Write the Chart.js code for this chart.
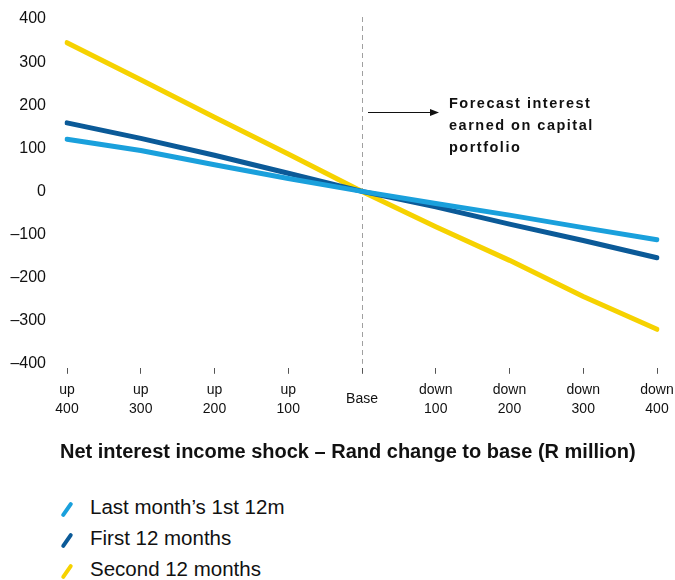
<!DOCTYPE html>
<html>
<head>
<meta charset="utf-8">
<script src="https://cdn.jsdelivr.net/npm/chart.js@4"></script>
<style>
  body { margin: 0; background: #fff; width: 675px; height: 580px; position: relative; overflow: hidden; }
  #wrap { position: absolute; left: 0; top: 0; width: 675px; height: 454px; }
  #title {
    position: absolute; left: 60px; top: 440px;
    font: bold 20px "Liberation Sans", Arial, sans-serif;
    color: #111; white-space: nowrap;
  }
  #legend { position: absolute; left: 0; top: 495px; margin: 0; padding: 0; list-style: none; }
  #legend li {
    position: relative; height: 31px; line-height: 28px; padding-left: 90px;
    font: 20.5px "Liberation Sans", Arial, sans-serif; color: #111; white-space: nowrap;
  }
  #legend .mark {
    position: absolute; left: 65px; top: 6px; width: 4px; height: 17px;
    border-radius: 2px; transform: rotate(35deg);
  }
</style>
</head>
<body>
<div id="wrap"><canvas id="niiChart"></canvas></div>
<div id="title">Net interest income shock – Rand change to base (R million)</div>
<ul id="legend"></ul>

<script>
// Rate shock scenarios (basis points)
const shockLabels = [
  ["up", "400"], ["up", "300"], ["up", "200"], ["up", "100"], "Base",
  ["down", "100"], ["down", "200"], ["down", "300"], ["down", "400"]
];

// Rand change to base, R million
const lastMonthFirst12 = [121, 95, 62, 30, 0, -28, -55, -84, -112];
const first12Months = [159, 123, 84, 42, 0, -36, -76, -114, -154];
const second12Months = [345, 259, 172, 87, 0, -82, -160, -244, -320];

const seriesNames = ["Last month’s 1st 12m", "First 12 months", "Second 12 months"];
const seriesColors = ["#1aa0dc", "#0b5a98", "#f6d200"];

const yTicks = [-400, -300, -200, -100, 0, 100, 200, 300, 400];

const annotationLines = ["Forecast interest", "earned on capital", "portfolio"];
const annotationValue = 185; // height of the arrow on the y scale

const labelFont = '"Liberation Sans", Arial, sans-serif';

// Dashed line through the base scenario, plus the arrow and note
const basePlugin = {
  id: "baseMarker",
  beforeDatasetsDraw(chart) {
    const { ctx, chartArea, scales } = chart;
    const x = Math.round(scales.x.getPixelForValue(4)) + 0.5;
    ctx.save();
    ctx.strokeStyle = "#a0a0a0";
    ctx.lineWidth = 1;
    ctx.setLineDash([5, 4]);
    ctx.beginPath();
    ctx.moveTo(x, chartArea.top - 2);
    ctx.lineTo(x, chartArea.bottom);
    ctx.stroke();
    ctx.restore();
  },
  afterDraw(chart) {
    const { ctx, scales } = chart;
    const x = scales.x.getPixelForValue(4);
    const y = Math.round(scales.y.getPixelForValue(annotationValue)) + 0.5;
    ctx.save();
    // arrow
    ctx.strokeStyle = "#111";
    ctx.fillStyle = "#111";
    ctx.lineWidth = 1;
    ctx.beginPath();
    ctx.moveTo(x + 6, y);
    ctx.lineTo(x + 71, y);
    ctx.stroke();
    ctx.beginPath();
    ctx.moveTo(x + 77, y);
    ctx.lineTo(x + 68, y - 3.5);
    ctx.lineTo(x + 68, y + 3.5);
    ctx.closePath();
    ctx.fill();
    // note
    ctx.font = "bold 14.5px " + labelFont;
    ctx.letterSpacing = "1.5px";
    ctx.textAlign = "left";
    ctx.textBaseline = "middle";
    annotationLines.forEach((line, i) => {
      ctx.fillText(line, x + 87, y - 9 + i * 22);
    });
    ctx.restore();
  }
};

const datasets = [lastMonthFirst12, first12Months, second12Months].map((values, i) => ({
  label: seriesNames[i],
  data: values,
  borderColor: seriesColors[i],
  backgroundColor: seriesColors[i],
  borderWidth: 5,
  borderCapStyle: "round",
  borderJoinStyle: "round",
  pointRadius: 0,
  tension: 0
}));

new Chart(document.getElementById("niiChart"), {
  type: "line",
  data: { labels: shockLabels, datasets },
  options: {
    responsive: true,
    maintainAspectRatio: false,
    animation: false,
    layout: { padding: { top: 19, right: 18, bottom: 9, left: 0 } },
    plugins: { legend: { display: false }, tooltip: { enabled: false } },
    scales: {
      x: {
        offset: false,
        // keep label overhang out of the plot area; layout padding handles it
        afterFit(scale) { scale.paddingLeft = 0; scale.paddingRight = 0; },
        border: { display: false },
        grid: {
          drawOnChartArea: false,
          drawTicks: true,
          tickLength: 10,
          tickBorderDash: [0, 4, 6, 100],
          tickColor: "#555",
          tickWidth: 1
        },
        ticks: {
          autoSkip: false,
          maxRotation: 0,
          crossAlign: "center",
          padding: 16,
          color: "#111",
          font: { family: labelFont, size: 14, lineHeight: 1.4 }
        }
      },
      y: {
        min: -400,
        max: 400,
        afterFit(scale) {
          scale.width = 67;
          scale.paddingTop = 0;
          scale.paddingBottom = 0;
        },
        afterBuildTicks(scale) { scale.ticks = yTicks.map(v => ({ value: v })); },
        border: { display: false },
        grid: { display: false, drawTicks: false },
        ticks: {
          padding: 21,
          color: "#111",
          font: { family: labelFont, size: 16 },
          callback: v => (v < 0 ? "\u2013" + Math.abs(v) : String(v))
        }
      }
    }
  },
  plugins: [basePlugin]
});

// Legend: one series per row with a slanted colour stroke
const legendEl = document.getElementById("legend");
seriesNames.forEach((name, i) => {
  const li = document.createElement("li");
  const mark = document.createElement("span");
  mark.className = "mark";
  mark.style.background = seriesColors[i];
  li.appendChild(mark);
  li.appendChild(document.createTextNode(name));
  legendEl.appendChild(li);
});
</script>
</body>
</html>
